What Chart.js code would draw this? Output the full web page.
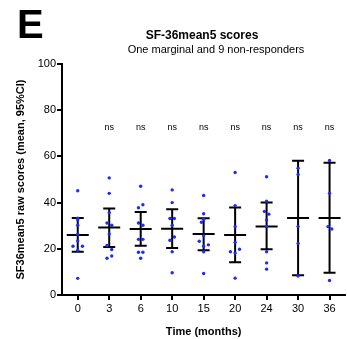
<!DOCTYPE html>
<html>
<head>
<meta charset="utf-8">
<script src="https://cdn.jsdelivr.net/npm/chart.js@4/dist/chart.umd.min.js"></script>
<style>
  html, body { margin: 0; padding: 0; background: #fff; }
  #wrap { position: relative; width: 347px; height: 339px; }
  #panel { position: absolute; left: 17px; top: 4px; font: bold 40px "Liberation Sans", Arial, sans-serif; color: #000; line-height: 40px; }
</style>
</head>
<body>
<div id="wrap">
  <canvas id="c" width="347" height="339"></canvas>
  <div id="panel">E</div>
</div>
<script>
// ---- data ----
const categories = ['0', '3', '6', '10', '15', '20', '24', '30', '36'];

const scores0  = [45.1, 33.3, 32.6, 30.2, 26.3, 23.4, 21.1, 21.1, 19.4, 7.2];
const scores3  = [50.7, 44.0, 35.6, 31.2, 30.2, 26.4, 21.4, 19.7, 16.9, 15.9];
const scores6  = [47.1, 39.1, 37.8, 31.2, 30.2, 24.1, 24.1, 18.5, 18.5, 15.9];
const scores10 = [45.5, 40.0, 33.1, 33.1, 30.2, 25.1, 23.7, 18.7, 9.6];
const scores15 = [43.1, 35.2, 32.8, 31.5, 25.6, 23.3, 21.7, 21.1, 18.7, 9.3];
const scores20 = [53.0, 38.7, 29.6, 22.8, 19.8, 18.7, 18.2, 7.3];
const scores24 = [51.2, 40.6, 36.2, 35.0, 32.5, 29.7, 18.7, 13.9, 11.2];
const scores30 = [54.9, 52.2, 29.6, 22.3, 8.2];
const scores36 = [58.2, 44.0, 29.6, 28.6, 6.3];

// horizontal scatter of the dots (in category units)
const jitter0  = [0, 0, 0, 0, 0, 0, -0.15, 0.15, 0, 0];
const jitter3  = [0, 0, 0, -0.07, 0.08, 0, -0.07, 0.08, 0.08, -0.07];
const jitter6  = [0, 0.07, -0.07, -0.07, 0.07, -0.07, 0.07, -0.07, 0.07, 0];
const jitter10 = [0, 0, -0.07, 0.07, 0, 0.07, -0.07, 0, 0];
const jitter15 = [0, 0, 0, -0.07, 0, -0.14, 0.15, 0, 0, 0];
const jitter20 = [0, 0, 0, 0, 0.14, -0.15, 0, 0];
const jitter24 = [0, 0, -0.07, 0.07, 0, 0, 0, 0, 0];
const jitter30 = [0, 0, 0, 0, 0];
const jitter36 = [0, 0, -0.05, 0.07, 0];

const means  = [26.0, 29.2, 28.6, 28.7, 26.4, 26.0, 29.7, 33.3, 33.3];
const ciHigh = [33.3, 37.5, 35.9, 37.1, 33.2, 37.9, 40.0, 58.1, 57.3];
const ciLow  = [18.7, 20.8, 21.3, 20.4, 19.4, 14.2, 19.8, 8.6, 9.6];

const sigLabels = ['', 'ns', 'ns', 'ns', 'ns', 'ns', 'ns', 'ns', 'ns'];
const sigLevel = 72.5;

const yTicks = [0, 20, 40, 60, 80, 100];

const titleText = 'SF-36mean5 scores';
const subtitleText = 'One marginal and 9 non-responders';
const yTitle = 'SF36mean5 raw scores (mean, 95%CI)';
const xTitle = 'Time (months)';

// ---- build points ----
const allScores = [scores0, scores3, scores6, scores10, scores15, scores20, scores24, scores30, scores36];
const allJitter = [jitter0, jitter3, jitter6, jitter10, jitter15, jitter20, jitter24, jitter30, jitter36];
const points = [];
allScores.forEach((arr, i) => {
  arr.forEach((v, k) => points.push({ x: i + allJitter[i][k], y: v }));
});

const FONT = '"Liberation Sans", Arial, Helvetica, sans-serif';

const errorBars = {
  id: 'errorBars',
  beforeDatasetsDraw(chart) {
    const { ctx, scales: { x, y } } = chart;
    ctx.save();
    ctx.strokeStyle = '#000';
    ctx.lineWidth = 2;
    ctx.lineCap = 'butt';
    means.forEach((m, i) => {
      const px = x.getPixelForValue(i);
      const yh = y.getPixelForValue(ciHigh[i]);
      const yl = y.getPixelForValue(ciLow[i]);
      const ym = y.getPixelForValue(m);
      ctx.beginPath();
      ctx.moveTo(px, yh); ctx.lineTo(px, yl);
      ctx.moveTo(px - 6, yh); ctx.lineTo(px + 6, yh);
      ctx.moveTo(px - 6, yl); ctx.lineTo(px + 6, yl);
      ctx.moveTo(px - 11, ym); ctx.lineTo(px + 11, ym);
      ctx.stroke();
    });
    ctx.restore();
  },
  afterDraw(chart) {
    const { ctx, scales: { x, y } } = chart;
    ctx.save();
    ctx.fillStyle = '#000';
    ctx.textAlign = 'center';
    ctx.textBaseline = 'middle';
    ctx.font = '9px ' + FONT;
    sigLabels.forEach((s, i) => {
      if (s) ctx.fillText(s, x.getPixelForValue(i), y.getPixelForValue(sigLevel));
    });
    ctx.textBaseline = 'alphabetic';
    ctx.font = 'bold 12px ' + FONT;
    ctx.fillText(titleText, 202, 39);
    ctx.font = '11px ' + FONT;
    ctx.fillText(subtitleText, 216, 53);
    ctx.restore();
  }
};

new Chart(document.getElementById('c'), {
  type: 'scatter',
  data: {
    datasets: [{
      data: points,
      pointRadius: 1.7,
      pointHoverRadius: 1.7,
      pointBackgroundColor: '#1a2cff',
      pointBorderWidth: 0,
      showLine: false
    }]
  },
  options: {
    responsive: false,
    animation: false,
    devicePixelRatio: 1,
    layout: { padding: { top: 64, left: 0, right: 0, bottom: 0 } },
    plugins: { legend: { display: false }, tooltip: { enabled: false }, title: { display: false } },
    scales: {
      x: {
        type: 'linear',
        min: -0.5,
        max: 8.5,
        afterBuildTicks(scale) { scale.ticks = categories.map((c, i) => ({ value: i })); },
        ticks: {
          callback: (v) => categories[Math.round(v)],
          color: '#000',
          font: { family: FONT, size: 11 },
          padding: 2,
          maxRotation: 0,
          autoSkip: false
        },
        grid: { display: true, drawOnChartArea: false, drawTicks: true, tickLength: 5, color: '#000', lineWidth: 2 },
        border: { display: true, color: '#000', width: 2 },
        title: { display: true, text: xTitle, color: '#000', font: { family: FONT, size: 11, weight: 'bold' }, padding: { top: 6, bottom: 0 } },
        afterFit(scale) { scale.height = 44; }
      },
      y: {
        type: 'linear',
        min: 0,
        max: 100,
        afterBuildTicks(scale) { scale.ticks = yTicks.map(v => ({ value: v })); },
        ticks: {
          color: '#000',
          font: { family: FONT, size: 11 },
          padding: 1
        },
        grid: { display: true, drawOnChartArea: false, drawTicks: true, tickLength: 5, color: '#000', lineWidth: 2 },
        border: { display: true, color: '#000', width: 2 },
        title: { display: true, text: yTitle, color: '#000', font: { family: FONT, size: 11, weight: 'bold' }, padding: { top: 14, bottom: 0 } },
        afterFit(scale) { scale.width = 62; }
      }
    }
  },
  plugins: [errorBars]
});
</script>
</body>
</html>
